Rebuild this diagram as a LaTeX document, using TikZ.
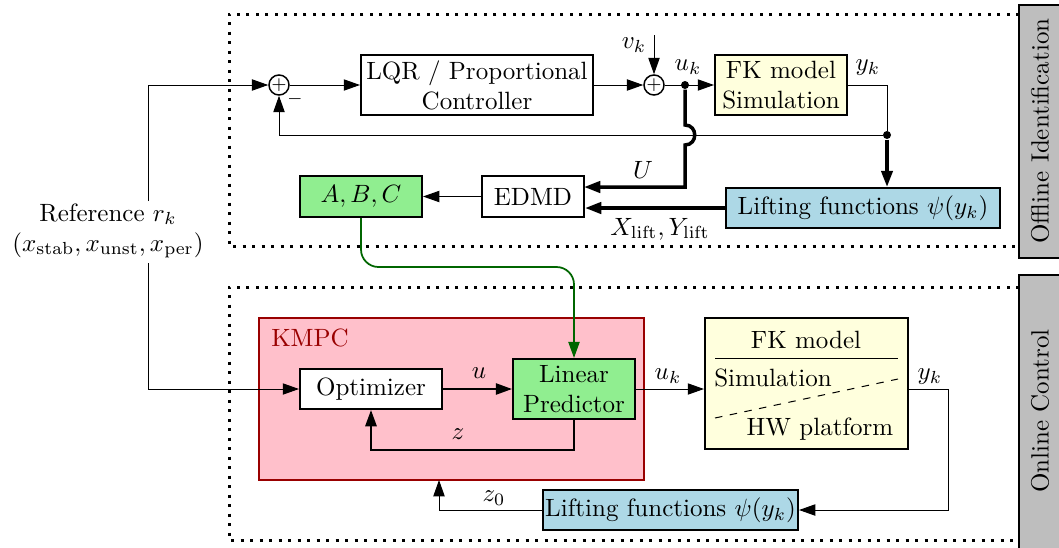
\documentclass[tikz,border=0pt]{standalone}
\usetikzlibrary{arrows.meta,calc}
\newdimen\pxu \pxu=0.4pt
\definecolor{fkfill}{HTML}{FFFFDD}
\definecolor{liftfill}{HTML}{ADD8E6}
\definecolor{mdlfill}{HTML}{90EE90}
\definecolor{kmpcfill}{HTML}{FFC0CB}
\definecolor{kmpcline}{HTML}{990000}
\definecolor{tagfill}{HTML}{BEBEBE}
\definecolor{pathgreen}{HTML}{006600}
\begin{document}
\begin{tikzpicture}[x=0.4pt,y=-0.4pt,
  blk/.style={draw, line width=0.8pt, inner sep=0pt, align=center},
  sumj/.style={draw, circle, line width=0.6pt, inner sep=0pt, minimum size=14\pxu, font=\scriptsize},
  arr/.style={-{Triangle[length=6.5pt,width=4.5pt]}},
  sig/.style={line width=0.4pt},
  bold/.style={line width=1.4pt},
  mid/.style={line width=0.8pt},
  frame/.style={line width=1.2pt, dash pattern=on 1.2pt off 2.6pt},
  tag/.style={draw, line width=0.8pt, fill=tagfill},
  dot/.style={circle, fill, inner sep=0pt, minimum size=8\pxu}]
\useasboundingbox (0,0) rectangle (1059,547);
\clip (0,0) rectangle (1059,547);

% section frames
\draw[frame] (1019,14) -- (229,14) -- (229,246) -- (1019,246);
\draw[frame] (1019,287) -- (229,287) -- (229,540) -- (1019,540);
\draw[tag] (1019,5) rectangle (1065,258);
\draw[tag] (1019,275) rectangle (1065,560);
\node[rotate=90] (tagoff) at (1040,131) {Offline Identification};
\node[rotate=90] (tagon) at (1040,411) {Online Control};

% ---------- offline identification ----------
\node[sumj] (sum1) at (279,85) {$+$};
\node[blk, minimum width=232\pxu, minimum height=60\pxu] (lqr) at (477,85) {LQR / Proportional\\Controller};
\node[sumj] (sum2) at (654,85) {$+$};
\node[dot] (udot) at (685,85) {};
\node[blk, fill=fkfill, minimum width=132\pxu, minimum height=60\pxu] (fk1) at (781,85) {FK model\\Simulation};
\node[dot] (ydot) at (887,135) {};
\node[blk, fill=liftfill, minimum width=274\pxu, minimum height=40\pxu] (lift1) at (863,208) {Lifting functions $\psi(y_k)$};
\node[blk, minimum width=102\pxu, minimum height=41\pxu] (edmd) at (533,196.5) {EDMD};
\node[blk, fill=mdlfill, minimum width=122\pxu, minimum height=41\pxu] (abc) at (361,196.5) {$A, B, C$};

\coordinate (vtop) at (654,35);
\coordinate (uhopA) at (685,125);
\coordinate (uhopB) at (685,145);
\coordinate (ucorner) at (685,187);
\coordinate (edmdU) at (584,187);

\node (minus) at (295,99) {\scriptsize$-$};
\node (vk) at (634,45) {$v_k$};
\node (uk) at (688,67) {$u_k$};
\node (yk) at (868,68) {$y_k$};
\node (Ulab) at (643,170) {$U$};
\node (Xlab) at (660,229) {$X_{\mathrm{lift}}, Y_{\mathrm{lift}}$};

\draw[sig, arr] (sum1) -- (lqr);
\draw[sig, arr] (lqr) -- (sum2);
\draw[sig, arr] (vtop) -- (sum2);
\draw[sig, arr] (sum2) -- (fk1);
\draw[sig] (fk1.east) -| (ydot);
\draw[sig, arr] (ydot) -| (sum1);
\draw[bold, arr] (ydot) -- (ydot |- lift1.north);
\draw[bold, arr] (udot) -- (uhopA) .. controls (698,125) and (698,145) .. (uhopB) -- (ucorner) -- (edmdU);
\draw[bold, arr] (lift1.west) -- (lift1.west -| edmd.east);
\draw[sig, arr] (edmd) -- (abc);

% ---------- reference input ----------
\node[align=center] (ref) at (108,231) {Reference $r_k$\\$(x_{\mathrm{stab}}, x_{\mathrm{unst}}, x_{\mathrm{per}})$};
\coordinate (rtop) at (148,201);
\coordinate (rbot) at (148,263);
\draw[sig, arr] (rtop) |- (sum1);

% ---------- online control ----------
\node[blk, draw=kmpcline, fill=kmpcfill, minimum width=385\pxu, minimum height=162\pxu] (kmpc) at (451.5,399) {};
\node[text=kmpcline] (kmpclab) at (310,338) {KMPC};
\node[blk, fill=white, minimum width=142\pxu, minimum height=40\pxu] (opt) at (371,389) {Optimizer};
\node[blk, fill=mdlfill, minimum width=122\pxu, minimum height=60\pxu] (lp) at (574,389) {Linear\\Predictor};
\node[blk, fill=fkfill, minimum width=203\pxu, minimum height=131\pxu] (fk2) at (806.5,383.5) {};
\node (fkm) at (806,340) {FK model};
\node (fksim) at (773,378) {Simulation};
\node (fkhw) at (820,429) {HW platform};
\draw[sig] (715,358) -- (898,358);
\draw[sig, dashed] (715,418) -- (898,379);
\node[blk, fill=liftfill, minimum width=255\pxu, minimum height=40\pxu] (lift2) at (670.5,510) {Lifting functions $\psi(y_k)$};

\coordinate (ycorner) at (948,389);
\coordinate (z0end) at (439,480);

\node (ulab) at (479,373) {$u$};
\node (zlab) at (458,434) {$z$};
\node (uk2) at (668,376) {$u_k$};
\node (yk2) at (930,377) {$y_k$};
\node (z0lab) at (494,498) {$z_0$};

\draw[sig, arr] (rbot) |- (opt);
\draw[mid, arr] (opt) -- (lp);
\draw[mid, arr] (lp.south) -- ++(0,30) -| (opt.south);
\draw[sig, arr] (lp.east) -- (lp.east -| fk2.west);
\draw[sig] (lp.east -| fk2.east) -- (ycorner);
\draw[sig, arr] (ycorner) |- (lift2);
\draw[sig, arr] (lift2.west) -| (z0end);

% identified model feeds the predictor
\draw[pathgreen, line width=0.7pt, arr, rounded corners=7pt] (abc.south) |- ($(lp.north)+(0,-91)$) -- (lp.north);
\end{tikzpicture}
\end{document}
